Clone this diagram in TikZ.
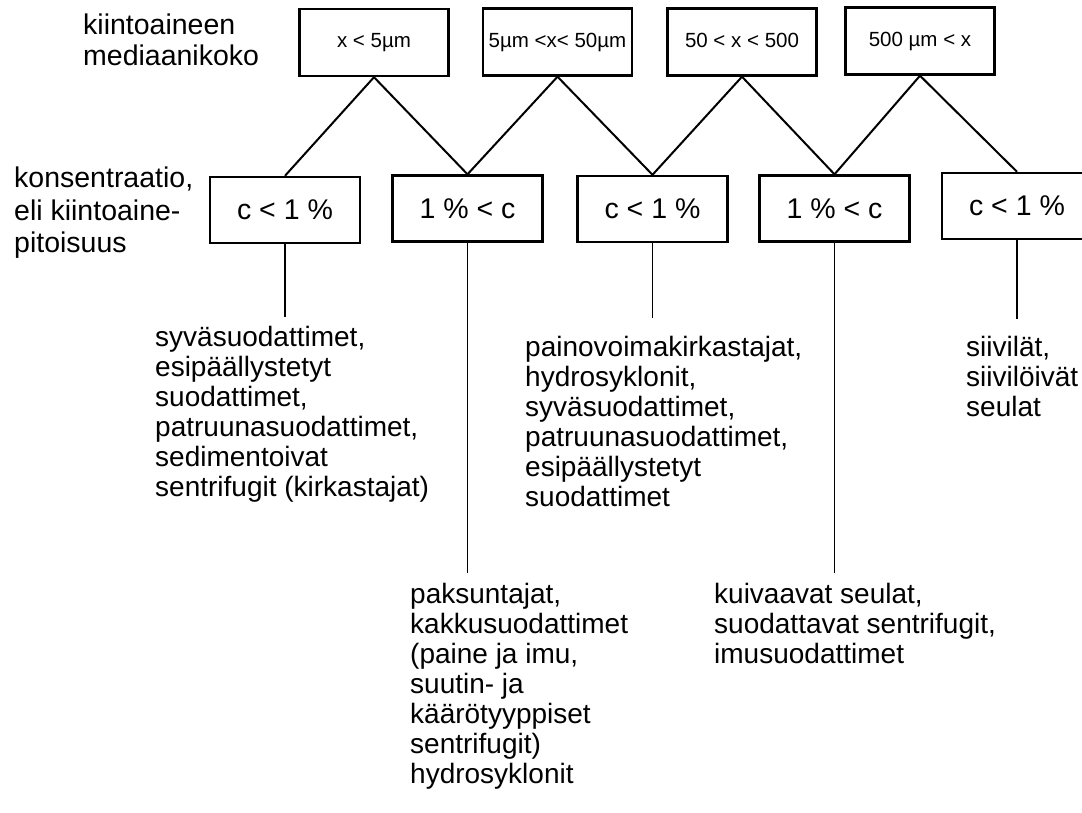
\documentclass[tikz,border=0pt]{standalone}
\usepackage{fontspec}
\setmainfont{Liberation Sans}
\begin{document}
\begin{tikzpicture}[x=1pt,y=-1pt,
  topbox/.style={draw, line width=2.4pt, minimum width=149pt, minimum height=67pt,
    inner sep=0pt, text height=15pt, text depth=4pt,
    font=\fontsize{20.5}{24}\selectfont},
  lowbox/.style={draw, line width=2.4pt, minimum width=150pt, minimum height=66pt,
    inner sep=0pt, text height=20.5pt, text depth=1pt,
    font=\fontsize{28.5}{30}\selectfont},
  link/.style={line width=2pt},
  stem/.style={line width=1.6pt},
  % anchored at the baseline of the last line
  label/.style={anchor=base west, align=left, inner sep=0pt,
    font=\fontsize{28}{30}\selectfont}
]
\useasboundingbox (0,0) rectangle (1082,813);
\clip (0,0) rectangle (1082,813);

% size classes
\node[topbox] (b1) at (374,42.5) {x < 5µm};
\node[topbox] (b2) at (557.5,42) {5µm <x< 50µm};
\node[topbox] (b3) at (742,42) {50 < x < 500};
\node[topbox] (b4) at (920,41) {500 µm < x};

% concentration classes
\node[lowbox] (l1) at (285,210) {c < 1 \%};
\node[lowbox] (l2) at (467.5,208.5) {1 \% < c};
\node[lowbox] (l3) at (652.5,209) {c < 1 \%};
\node[lowbox] (l4) at (834.5,208.5) {1 \% < c};
\node[lowbox] (l5) at (1017,206) {c < 1 \%};

% branches
\draw[link] (b1.south) -- (l1.north);
\draw[link] (b1.south) -- (l2.north);
\draw[link] (b2.south) -- (l2.north);
\draw[link] (b2.south) -- (l3.north);
\draw[link] (b3.south) -- (l3.north);
\draw[link] (b3.south) -- (l4.north);
\draw[link] (b4.south) -- (l4.north);
\draw[link] (b4.south) -- (l5.north);

% stems down to the equipment lists
\coordinate (e1) at (285,317);
\coordinate (e2) at (467.5,573);
\coordinate (e3) at (652.5,318);
\coordinate (e4) at (834.5,573);
\coordinate (e5) at (1017,319);
\draw[stem] (l1.south) -- (e1);
\draw[stem] (l2.south) -- (e2);
\draw[stem] (l3.south) -- (e3);
\draw[stem] (l4.south) -- (e4);
\draw[stem] (l5.south) -- (e5);

% axis captions
\node[label, font=\fontsize{28.5}{31}\selectfont] (cap1) at (83,66) {kiintoaineen\\mediaanikoko};
\node[label, font=\fontsize{28.5}{32.5}\selectfont] (cap2) at (14,253) {konsentraatio,\\eli kiintoaine-\\pitoisuus};

% equipment lists
\node[label] (q1) at (155,496) {syväsuodattimet,\\esipäällystetyt\\suodattimet,\\patruunasuodattimet,\\sedimentoivat\\sentrifugit (kirkastajat)};
\node[label] (q2) at (410,783) {paksuntajat,\\kakkusuodattimet\\(paine ja imu,\\suutin- ja\\käärötyyppiset\\sentrifugit)\\hydrosyklonit};
\node[label] (q3) at (525,506) {painovoimakirkastajat,\\hydrosyklonit,\\syväsuodattimet,\\patruunasuodattimet,\\esipäällystetyt\\suodattimet};
\node[label] (q4) at (714,663) {kuivaavat seulat,\\suodattavat sentrifugit,\\imusuodattimet};
\node[label] (q5) at (966,416) {siivilät,\\siivilöivät\\seulat};
\end{tikzpicture}
\end{document}
